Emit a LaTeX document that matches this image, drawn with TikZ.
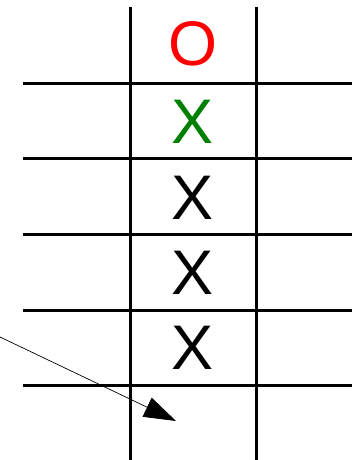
\documentclass[tikz,border=0pt]{standalone}
\usepackage{fontspec}
\setmainfont{Liberation Sans}
\usepackage{tikz}
\usetikzlibrary{arrows.meta}
\definecolor{oc}{RGB}{255,0,0}
\definecolor{xc}{RGB}{0,128,0}
\tikzset{
  grid/.style    = {draw=black, line width=3pt},
  glyph/.style   = {anchor=base, inner sep=0pt, font=\fontsize{63}{63}\selectfont},
  pointer/.style = {-{Triangle[length=32pt,width=21pt]}, line width=0.7pt, draw=black},
}
\begin{document}
\begin{tikzpicture}[x=1pt,y=-1pt]
\useasboundingbox (0,0) rectangle (352,460);

% board lines
\draw[grid] (130,7) -- (130,460);
\draw[grid] (256,7) -- (256,460);
\foreach \y in {83,158,234,310,385}
  \draw[grid] (23,\y) -- (352,\y);

% marks in the middle column
\node[glyph, text=oc] (m1) at (193,66) {O};
\node[glyph, text=xc] (m2) at (193,143) {X};
\node[glyph] (m3) at (193,219) {X};
\node[glyph] (m4) at (193,294.5) {X};
\node[glyph] (m5) at (193,369) {X};

% next move
\coordinate (from) at (0,337);
\coordinate (next) at (176,421);
\draw[pointer] (from) -- (next);

\end{tikzpicture}
\end{document}
